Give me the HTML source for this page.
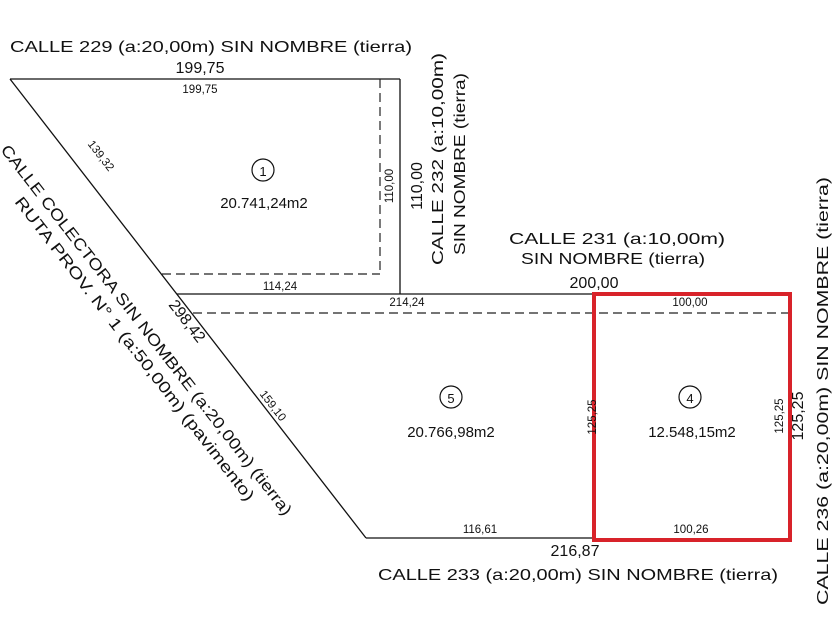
<!DOCTYPE html>
<html><head><meta charset="utf-8"><style>
html,body{margin:0;padding:0;background:#fff;}
svg{display:block;}
text{font-family:"Liberation Sans",sans-serif;fill:#111;}
</style></head><body>
<svg width="840" height="630" viewBox="0 0 840 630">
<g stroke="#111" fill="none" stroke-width="1.3">
<line x1="10" y1="79" x2="400" y2="79"/>
<line x1="400" y1="79" x2="400" y2="294"/>
<line x1="10" y1="79" x2="366" y2="538"/>
<line x1="177" y1="294" x2="594" y2="294"/>
<line x1="366" y1="538" x2="594" y2="538"/>
<line x1="790" y1="294" x2="790" y2="540"/>
</g>
<g stroke="#222" fill="none" stroke-width="1.2" stroke-dasharray="9,5">
<line x1="380" y1="79" x2="380" y2="274"/>
<line x1="162" y1="274" x2="380" y2="274"/>
<line x1="193" y1="313" x2="790" y2="313"/>
</g>
<rect x="594" y="294" width="196" height="246" fill="none" stroke="#d8232a" stroke-width="4"/>
<g fill="none" stroke="#111" stroke-width="1.2">
<circle cx="263" cy="170" r="11"/>
<circle cx="451" cy="397" r="11"/>
<circle cx="690" cy="397" r="11"/>
</g>
<g font-size="16">
<text x="10" y="52" textLength="402" lengthAdjust="spacingAndGlyphs">CALLE 229 (a:20,00m) SIN NOMBRE (tierra)</text>
<text x="200" y="73" text-anchor="middle">199,75</text>
<text x="617" y="244" text-anchor="middle" textLength="216" lengthAdjust="spacingAndGlyphs">CALLE 231 (a:10,00m)</text>
<text x="613" y="264" text-anchor="middle" textLength="184" lengthAdjust="spacingAndGlyphs">SIN NOMBRE (tierra)</text>
<text x="594" y="288" text-anchor="middle">200,00</text>
<text x="575" y="556" text-anchor="middle">216,87</text>
<text x="378" y="580" textLength="400" lengthAdjust="spacingAndGlyphs">CALLE 233 (a:20,00m) SIN NOMBRE (tierra)</text>
<text x="264" y="208" text-anchor="middle" font-size="15">20.741,24m2</text>
<text x="451" y="437" text-anchor="middle" font-size="15">20.766,98m2</text>
<text x="692" y="437" text-anchor="middle" font-size="15">12.548,15m2</text>
<text x="263" y="176" text-anchor="middle" font-size="13">1</text>
<text x="451" y="403" text-anchor="middle" font-size="13">5</text>
<text x="690" y="403" text-anchor="middle" font-size="13">4</text>
<text transform="translate(443,265) rotate(-90)" textLength="212" lengthAdjust="spacingAndGlyphs">CALLE 232 (a:10,00m)</text>
<text transform="translate(465,255) rotate(-90)" textLength="182" lengthAdjust="spacingAndGlyphs">SIN NOMBRE (tierra)</text>
<text transform="translate(422,186) rotate(-90)" text-anchor="middle">110,00</text>
<text transform="translate(828,605) rotate(-90)" textLength="428" lengthAdjust="spacingAndGlyphs">CALLE 236 (a:20,00m) SIN NOMBRE (tierra)</text>
<text transform="translate(803,416) rotate(-90)" text-anchor="middle">125,25</text>
<text transform="translate(0,150) rotate(52.2)" textLength="464" lengthAdjust="spacingAndGlyphs">CALLE COLECTORA SIN NOMBRE (a:20,00m) (tierra)</text>
<text transform="translate(14,202) rotate(52.2)" textLength="380" lengthAdjust="spacingAndGlyphs">RUTA PROV. N° 1 (a:50,00m) (pavimento)</text>
<text transform="translate(168,305) rotate(52.2)" text-anchor="start">298,42</text>
</g>
<g font-size="11.5">
<text x="200" y="93" text-anchor="middle">199,75</text>
<text x="280" y="290" text-anchor="middle">114,24</text>
<text x="407" y="306" text-anchor="middle">214,24</text>
<text x="690" y="306" text-anchor="middle">100,00</text>
<text x="480" y="533" text-anchor="middle">116,61</text>
<text x="691" y="533" text-anchor="middle">100,26</text>
<text transform="translate(393,186) rotate(-90)" text-anchor="middle">110,00</text>
<text transform="translate(596,417) rotate(-90)" text-anchor="middle">125,25</text>
<text transform="translate(783,416) rotate(-90)" text-anchor="middle">125,25</text>
<text transform="translate(98,158) rotate(52.2)" text-anchor="middle">139,32</text>
<text transform="translate(270,408) rotate(52.2)" text-anchor="middle">159,10</text>
</g>
</svg>
</body></html>
